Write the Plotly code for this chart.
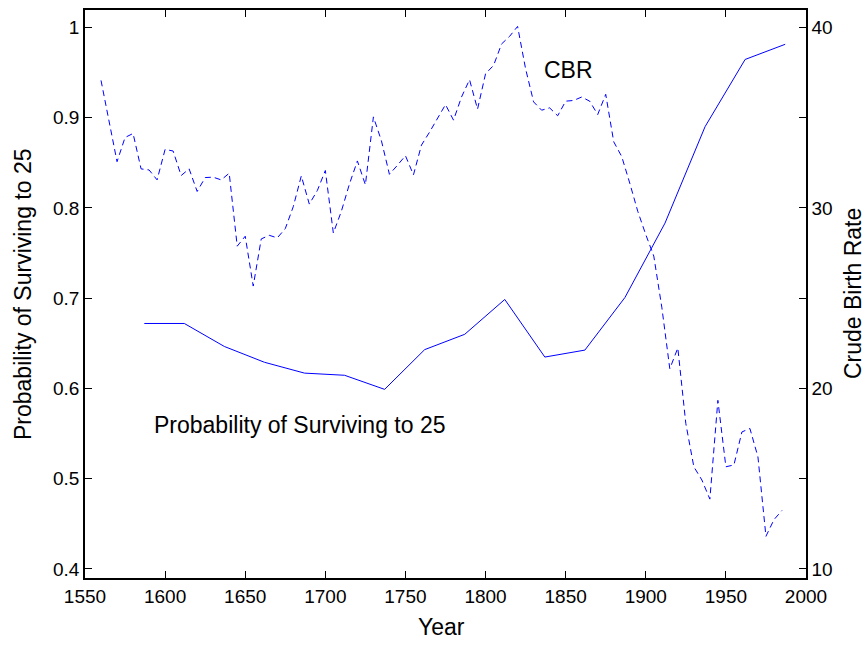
import plotly.graph_objects as go

# Probability of surviving to 25 (left axis), 25-year periods
surv_years = [1587, 1612, 1637, 1662, 1687, 1712, 1737, 1762, 1787, 1812,
              1837, 1862, 1887, 1912, 1937, 1962, 1987]
surv_prob = [0.672, 0.672, 0.6465, 0.629, 0.617, 0.6146, 0.599, 0.643, 0.660, 0.6986,
             0.6348, 0.6425, 0.7008, 0.7832, 0.890, 0.9645, 0.9813]

# Crude birth rate (right axis)
cbr_years = [1560, 1565, 1570, 1575, 1580, 1585, 1590, 1595, 1600, 1605,
             1610, 1615, 1620, 1625, 1630, 1635, 1640, 1645, 1650, 1655,
             1660, 1665, 1670, 1675, 1680, 1685, 1690, 1695, 1700, 1705,
             1710, 1715, 1720, 1725, 1730, 1735, 1740, 1745, 1750, 1755,
             1760, 1765, 1770, 1775, 1780, 1785, 1790, 1795, 1800, 1805,
             1810, 1815, 1820, 1825, 1830, 1835, 1840, 1845, 1850, 1855,
             1860, 1865, 1870, 1875, 1880, 1885, 1890, 1895, 1900, 1905,
             1910, 1915, 1920, 1925, 1930, 1935, 1940, 1945, 1950, 1955,
             1960, 1965, 1970, 1975, 1980, 1985]
cbr = [37.06, 34.86, 32.56, 33.9, 34.12, 32.16, 32.10, 31.55, 33.24, 33.15,
       31.79, 32.16, 30.91, 31.68, 31.70, 31.55, 31.92, 27.88, 28.43, 25.67,
       28.28, 28.48, 28.34, 28.85, 30.07, 31.77, 30.21, 30.96, 32.07, 28.61,
       29.81, 31.31, 32.6, 31.28, 35.04, 33.72, 31.86, 32.36, 32.89, 31.83,
       33.48, 34.19, 34.93, 35.72, 34.86, 36.14, 37.1, 35.47, 37.43, 37.89,
       39.08, 39.5, 40.05, 37.70, 35.87, 35.41, 35.54, 35.10, 35.91, 35.95,
       36.14, 35.91, 35.17, 36.29, 33.66, 32.84, 31.37, 29.81, 28.52, 27.33,
       24.5, 21.09, 22.24, 18.05, 15.66, 14.93, 13.87, 19.34, 15.66, 15.76,
       17.59, 17.78, 16.21, 11.81, 12.73, 13.24]

x_ticks = [1550, 1600, 1650, 1700, 1750, 1800, 1850, 1900, 1950, 2000]
left_ticks = [0.4, 0.5, 0.6, 0.7, 0.8, 0.9, 1.0]
left_labels = ["0.4", "0.5", "0.6", "0.7", "0.8", "0.9", "1"]
right_ticks = [10, 15, 20, 25, 30, 35, 40]
right_labels = ["10", "", "20", "", "30", "", "40"]

FONT = "Liberation Sans, Arial, sans-serif"
BLUE = "#0000ff"

fig = go.Figure()
fig.add_trace(go.Scatter(x=surv_years, y=surv_prob, mode="lines",
                         line=dict(color=BLUE, width=1), yaxis="y",
                         showlegend=False, hoverinfo="skip"))
fig.add_trace(go.Scatter(x=cbr_years, y=cbr, mode="lines",
                         line=dict(color=BLUE, width=1, dash="6px,4px"),
                         yaxis="y2", showlegend=False, hoverinfo="skip"))

axis_common = dict(showgrid=False, zeroline=False, showline=True,
                   linecolor="black", linewidth=1.5, ticks="inside",
                   ticklen=7, tickwidth=1, tickcolor="black",
                   tickfont=dict(family=FONT, size=19, color="black"))

fig.update_layout(
    width=867, height=646,
    margin=dict(l=85, r=61, t=8, b=68),
    paper_bgcolor="white", plot_bgcolor="white",
    xaxis=dict(range=[1550, 2000], tickvals=x_ticks, mirror="ticks",
               **axis_common),
    yaxis=dict(range=[0.390, 1.0193], tickvals=left_ticks, ticktext=left_labels,
               **axis_common),
    yaxis2=dict(range=[9.50, 40.96], tickvals=right_ticks, ticktext=right_labels,
                overlaying="y", side="right", **axis_common),
    annotations=[
        dict(text="Year", xref="paper", yref="paper", x=(441 - 85) / 721, y=-(628 - 578.5) / 570,
             xanchor="center", yanchor="middle", showarrow=False,
             font=dict(family=FONT, size=23, color="black")),
        dict(text="Probability of Surviving to 25", xref="paper", yref="paper",
             x=-(85 - 23) / 721, y=0.5, textangle=-90, xanchor="center", yanchor="middle",
             showarrow=False, font=dict(family=FONT, size=23, color="black")),
        dict(text="Crude Birth Rate", xref="paper", yref="paper",
             x=1 + (853 - 806) / 721, y=0.5, textangle=-90, xanchor="center", yanchor="middle",
             showarrow=False, font=dict(family=FONT, size=23, color="black")),
        dict(text="Probability of Surviving to 25", xref="x", yref="y",
             x=1591.8, y=0.559, xanchor="left", yanchor="middle", showarrow=False,
             font=dict(family=FONT, size=23, color="black")),
        dict(text="CBR", xref="x", yref="y",
             x=1835.3, y=0.9526, xanchor="left", yanchor="middle", showarrow=False,
             font=dict(family=FONT, size=23, color="black")),
    ],
)

fig.write_html("out.html")
